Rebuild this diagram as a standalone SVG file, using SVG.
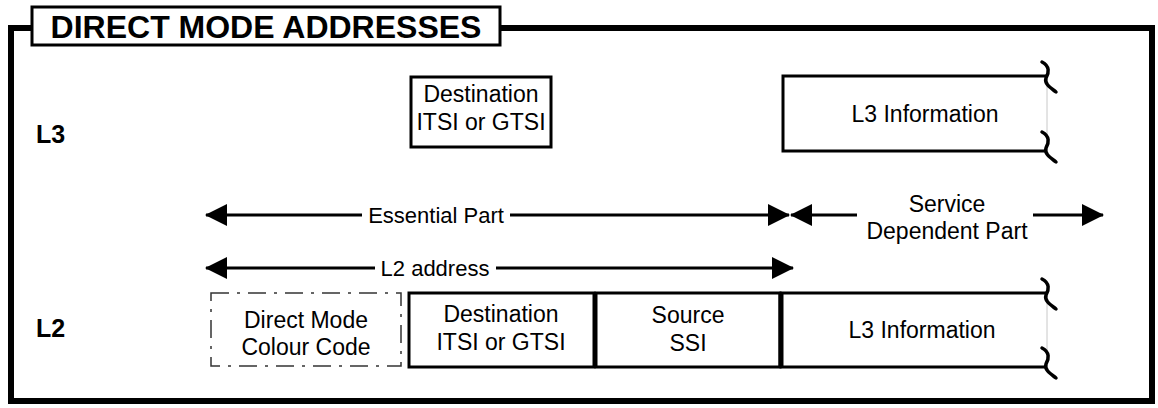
<svg xmlns="http://www.w3.org/2000/svg" width="1158" height="408" viewBox="0 0 1158 408">
<defs>
<style>
text{font-family:"Liberation Sans",Arial,sans-serif;fill:#000}
.t{font-size:23px;text-anchor:middle}
.s{font-size:22px}
.b{font-weight:bold}
.box{fill:#fff;stroke:#000;stroke-width:3}
.open{fill:none;stroke:#000;stroke-width:3}
.thin{stroke:#c8c8c8;stroke-width:1}
.sq{fill:none;stroke:#000;stroke-width:3.5;stroke-linecap:round}
.ln{stroke:#000;stroke-width:3}
.dash{fill:#fff;stroke:#333;stroke-width:1.5;stroke-dasharray:18 8 3 8}
</style>
<marker id="ah" viewBox="0 0 22 22" refX="21" refY="11" markerWidth="22" markerHeight="22" markerUnits="userSpaceOnUse" orient="auto-start-reverse">
<path d="M0,0 L22,11 L0,22 Z" fill="#000"/>
</marker>
</defs>
<rect width="1158" height="408" fill="#fff"/>
<g id="frame">
<path d="M32,28 H11 V401 H1152 V28 H500" fill="none" stroke="#000" stroke-width="6"/>
<rect x="32" y="7" width="468" height="38" fill="#fff" stroke="#000" stroke-width="3"/>
<text x="266" y="38" font-size="32" class="b" text-anchor="middle">DIRECT MODE ADDRESSES</text>
<text x="36" y="143" font-size="25" class="b">L3</text>
<text x="36" y="337" font-size="25" class="b">L2</text>
</g>
<g id="l3-dest">
<rect class="box" x="411" y="77" width="140" height="70"/>
<text class="t" x="481" y="102">Destination</text>
<text class="t" x="481" y="130">ITSI or GTSI</text>
</g>
<g id="l3-info">
<rect x="783" y="76" width="264" height="75" fill="#fff"/>
<path class="open" d="M1046,76 H783 V151 H1046"/>
<line class="thin" x1="1047" y1="76" x2="1047" y2="151"/>
<path class="sq" d="M1042,62 C1050,66 1049,73 1046,78 C1044,84 1051,88 1056,92"/>
<path class="sq" d="M1042,132 C1050,136 1049,143 1046,148 C1044,154 1051,158 1056,162"/>
<text class="t" x="925" y="122">L3 Information</text>
</g>
<g id="connectors">
<line class="ln" x1="206" y1="215" x2="362" y2="215" marker-start="url(#ah)"/>
<line class="ln" x1="510" y1="215" x2="789" y2="215" marker-end="url(#ah)"/>
<line class="ln" x1="791" y1="215" x2="857" y2="215" marker-start="url(#ah)"/>
<line class="ln" x1="1033" y1="215" x2="1103" y2="215" marker-end="url(#ah)"/>
<line class="ln" x1="206" y1="268" x2="375" y2="268" marker-start="url(#ah)"/>
<line class="ln" x1="496" y1="268" x2="793" y2="268" marker-end="url(#ah)"/>
</g>
<g id="labels">
<text class="t s" x="436" y="223">Essential Part</text>
<text class="t" x="947" y="212" font-size="24">Service</text>
<text class="t" x="947" y="239" font-size="24">Dependent Part</text>
<text class="t s" x="435" y="276">L2 address</text>
</g>
<g id="l2-colour">
<rect class="dash" x="211" y="293" width="190" height="73"/>
<text class="t" x="306" y="328">Direct Mode</text>
<text class="t" x="306" y="355">Colour Code</text>
</g>
<g id="l2-dest">
<rect class="box" x="409" y="293" width="185" height="74"/>
<text class="t" x="501" y="322">Destination</text>
<text class="t" x="501" y="350">ITSI or GTSI</text>
</g>
<g id="l2-source">
<rect class="box" x="596" y="293" width="184" height="74"/>
<text class="t" x="688" y="323">Source</text>
<text class="t" x="688" y="351">SSI</text>
</g>
<g id="l2-info">
<rect x="781" y="293" width="266" height="74" fill="#fff"/>
<path class="open" d="M1046,293 H781 V367 H1046"/>
<line x1="781" y1="293" x2="781" y2="367" stroke="#000" stroke-width="5"/>
<line class="thin" x1="1047" y1="293" x2="1047" y2="367"/>
<path class="sq" d="M1042,279 C1050,283 1049,290 1046,295 C1044,301 1051,305 1056,309"/>
<path class="sq" d="M1042,348 C1050,352 1049,359 1046,364 C1044,370 1051,374 1056,378"/>
<text class="t" x="922" y="338">L3 Information</text>
</g>
</svg>
